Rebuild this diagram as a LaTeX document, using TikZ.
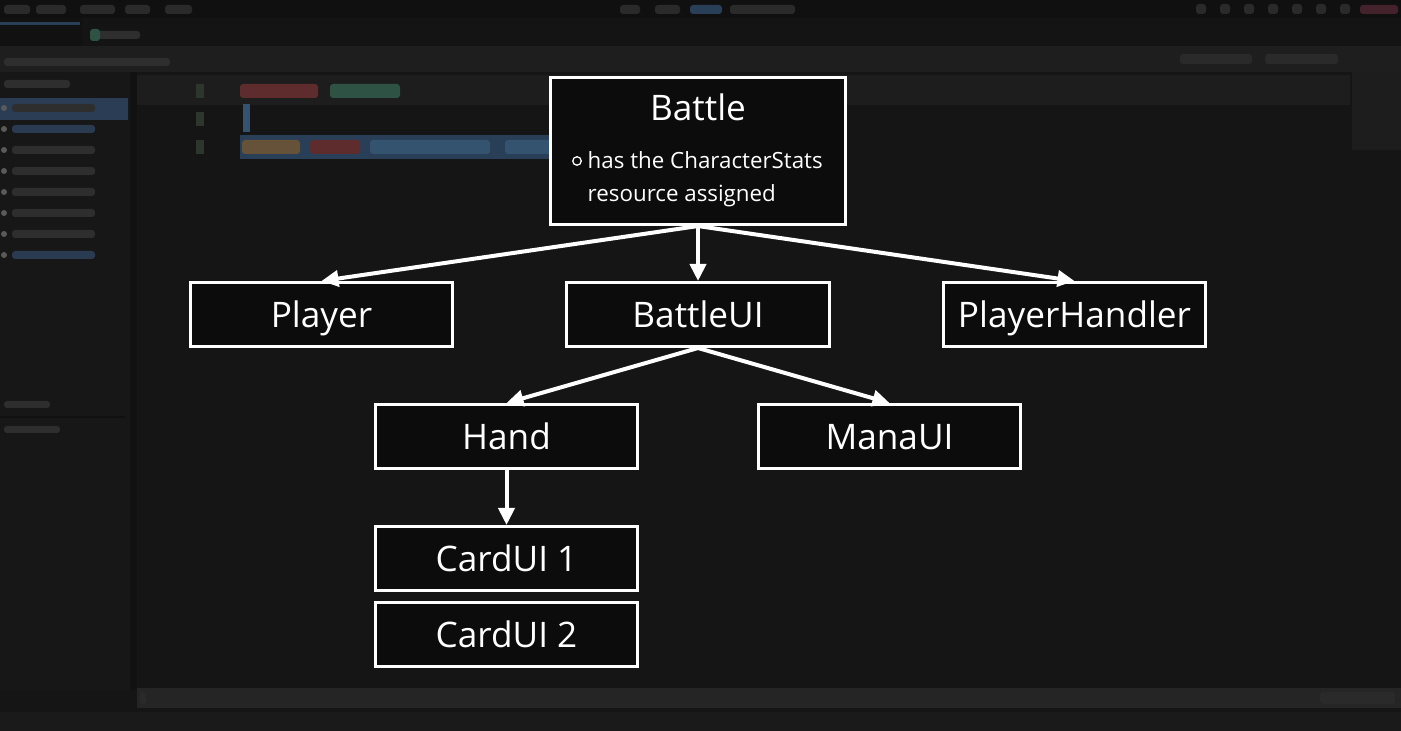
\documentclass[tikz,border=0pt]{standalone}
\usepackage{fontspec}
\setmainfont{Open Sans}
\usetikzlibrary{arrows.meta}
\definecolor{bgc}{HTML}{151515}
\definecolor{boxfill}{HTML}{0C0C0C}
\definecolor{menuc}{HTML}{101010}
\definecolor{tabc}{HTML}{141414}
\definecolor{toolc}{HTML}{1E1E1E}
\definecolor{panelc}{HTML}{171717}
\definecolor{sepc}{HTML}{111111}
\definecolor{linec}{HTML}{1D1D1D}
\definecolor{selc}{HTML}{2A3D55}
\definecolor{itemc}{HTML}{2E2E2E}
\definecolor{itembc}{HTML}{2A3A50}
\definecolor{dotc}{HTML}{5A5A5A}
\definecolor{redc}{HTML}{5E2C2C}
\definecolor{greenc}{HTML}{2E5244}
\definecolor{bluec}{HTML}{283F57}
\definecolor{cursc}{HTML}{34536F}
\definecolor{orangec}{HTML}{665238}
\definecolor{numc}{HTML}{2C362C}
\definecolor{barc}{HTML}{252525}
\definecolor{stripc}{HTML}{1A1A1A}
\definecolor{iconc}{HTML}{2A2A2A}
\definecolor{pinkc}{HTML}{44222C}
\tikzset{
  nodebox/.style={draw=white, line width=0.03cm, fill=boxfill, text=white,
    minimum width=2.62cm, minimum height=0.64cm, inner sep=0pt,
    text height=0.25cm, text depth=0cm,
    font=\fontsize{10pt}{12pt}\selectfont},
  link/.style={draw=white, line width=0.04cm,
    -{Triangle[length=0.17cm,width=0.16cm]}},
  bgtext/.style={rounded corners=0.03cm}
}
\begin{document}
\begin{tikzpicture}[x=0.01cm,y=-0.01cm]
\useasboundingbox (0,0) rectangle (1401,731);
% ---- blurred editor background ----
\fill[bgc] (0,0) rectangle (1401,731);
\fill[menuc] (0,0) rectangle (1401,18);
\fill[tabc] (0,18) rectangle (1401,46);
\fill[toolc] (0,46) rectangle (1401,72);
\fill[panelc] (0,72) rectangle (130,690);
\fill[sepc] (130,72) rectangle (137,690);
\fill[linec] (137,75) rectangle (1350,105);
\fill[linec] (1352,72) rectangle (1401,150);
\fill[selc] (0,98) rectangle (128,120);
\fill[sepc] (0,18) rectangle (82,46);
\fill[bluec] (0,22) rectangle (80,25);
\foreach \yy/\cc in {108/itemc,129/itembc,150/itemc,171/itemc,192/itemc,213/itemc,234/itemc,255/itembc}{
  \fill[dotc] (4,\yy) circle (3);
  \fill[bgtext,\cc] (12,\yy-4) rectangle (95,\yy+4);
}
\fill[bgtext,itemc] (4,80) rectangle (70,88);
\fill[bgtext,itemc] (4,58) rectangle (170,66);
\fill[bgtext,itemc] (95,31) rectangle (140,39);
\fill[bgtext,greenc] (90,29) rectangle (100,41);
\fill[panelc] (0,395) rectangle (125,414);
\fill[panelc] (0,420) rectangle (125,438);
\fill[sepc] (0,416) rectangle (125,418);
\fill[bgtext,itemc] (4,401) rectangle (50,408);
\fill[bgtext,itemc] (4,426) rectangle (60,433);
% code lines
\fill[numc] (196,84) rectangle (204,98);
\fill[numc] (196,112) rectangle (204,126);
\fill[numc] (196,140) rectangle (204,154);
\fill[bgtext,redc] (240,84) rectangle (318,98);
\fill[bgtext,greenc] (330,84) rectangle (400,98);
\fill[cursc] (243,104) rectangle (250,132);
\fill[bluec] (240,135) rectangle (665,159);
\fill[bgtext,orangec] (242,140) rectangle (300,154);
\fill[bgtext,redc] (310,140) rectangle (360,154);
\fill[bgtext,cursc] (370,140) rectangle (490,154);
\fill[bgtext,cursc] (505,140) rectangle (660,154);
% top blobs
\foreach \xa/\xb in {4/30,36/66,80/115,125/150,165/192,620/640,655/680,730/795}{
  \fill[bgtext,iconc] (\xa,5) rectangle (\xb,14);
}
\fill[bgtext,bluec] (690,5) rectangle (722,14);
\foreach \xa in {1196,1220,1244,1268,1292,1316,1340}{
  \fill[bgtext,iconc] (\xa,4) rectangle (\xa+10,14);
}
\fill[bgtext,pinkc] (1360,5) rectangle (1398,14);
\fill[bgtext,iconc] (1180,54) rectangle (1252,64);
\fill[bgtext,iconc] (1265,54) rectangle (1338,64);
% bottom bars
\fill[barc] (137,688) rectangle (1401,708);
\fill[stripc] (0,712) rectangle (1401,731);
\fill[bgtext,iconc] (140,692) rectangle (146,704);
\fill[bgtext,iconc] (1320,692) rectangle (1395,704);
% ---- diagram ----
\node[nodebox, minimum width=2.95cm, minimum height=1.47cm] (battle) at (698,151) {};
\node[text=white, font=\fontsize{10pt}{12pt}\selectfont] (battletitle) at (698,107) {Battle};
\node[draw=white, line width=0.013cm, circle, inner sep=0pt, minimum size=0.085cm] (bullet) at (577,161) {};
\node[text=white, anchor=west, align=left, inner sep=0pt,
  font=\fontsize{6.35pt}{9.3pt}\selectfont] (battlenote) at (587,179)
  {has the CharacterStats\\resource assigned};
\node[nodebox] (player) at (321.5,314.5) {Player};
\node[nodebox] (battleui) at (698,314.5) {BattleUI};
\node[nodebox] (handler) at (1074.5,314.5) {PlayerHandler};
\node[nodebox] (hand) at (506.5,436.5) {Hand};
\node[nodebox] (manaui) at (889.5,436.5) {ManaUI};
\node[nodebox] (card1) at (506.5,558.5) {CardUI 1};
\node[nodebox] (card2) at (506.5,634.5) {CardUI 2};
\draw[link] (battle.south) -- (player.north);
\draw[link] (battle.south) -- (battleui.north);
\draw[link] (battle.south) -- (handler.north);
\draw[link] (battleui.south) -- (hand.north);
\draw[link] (battleui.south) -- (manaui.north);
\draw[link] (hand.south) -- (card1.north);
\end{tikzpicture}
\end{document}
